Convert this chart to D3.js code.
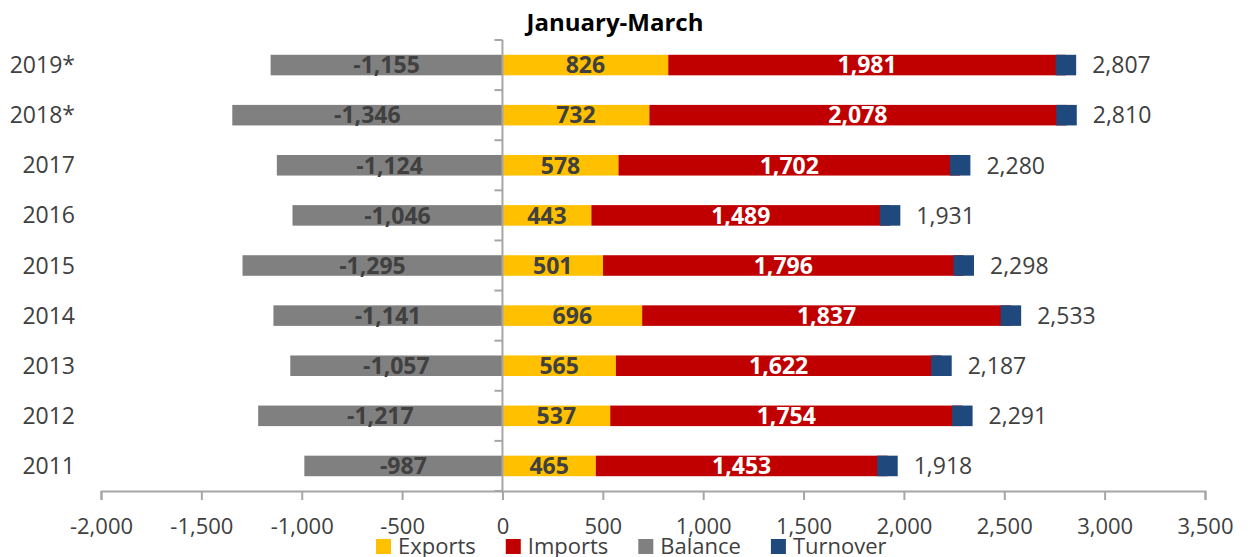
<!DOCTYPE html>
<html>
<head>
<meta charset="utf-8">
<script src="https://cdn.jsdelivr.net/npm/d3@7"></script>
<style>
  body { margin: 0; background: #fff; }
  svg { display: block; font-family: 'Open Sans', sans-serif; }
</style>
</head>
<body>
<div id="chart"></div>
<script>
// January-March trade, values
var years = ['2019*', '2018*', '2017', '2016', '2015', '2014', '2013', '2012', '2011']
var exports_ = [826, 732, 578, 443, 501, 696, 565, 537, 465]
var imports_ = [1981, 2078, 1702, 1489, 1796, 1837, 1622, 1754, 1453]
var balance = [-1155, -1346, -1124, -1046, -1295, -1141, -1057, -1217, -987]
var turnover = [2807, 2810, 2280, 1931, 2298, 2533, 2187, 2291, 1918]
var xTicks = [-2000, -1500, -1000, -500, 0, 500, 1000, 1500, 2000, 2500, 3000, 3500]
var seriesNames = ['Exports', 'Imports', 'Balance', 'Turnover']

var col = {
    Exports: '#ffc000',
    Imports: '#c00000',
    Balance: '#808080',
    Turnover: '#1f497d'
}
var textCol = '#404040'
var axisCol = '#a6a6a6'

var width = 1254, height = 557
var svg = d3.select('#chart').append('svg')
    .attr('width', width).attr('height', height)

var x = d3.scaleLinear().domain([-2000, 3500]).range([101, 1205])
var y = d3.scaleBand().domain(years).range([40, 491])
    .paddingInner(0.59).paddingOuter(0.295)
// plain hyphen for negatives, like the original
var fmt = d3.formatLocale({decimal: '.', thousands: ',', grouping: [3], currency: ['', ''], minus: '-'}).format(',')

var rows = years.map(function(yr, i) {
    return {year: yr, exp: exports_[i], imp: imports_[i], bal: balance[i], tot: turnover[i]}
})

// title
svg.append('text')
    .attr('x', 615).attr('y', 31)
    .attr('text-anchor', 'middle')
    .attr('font-size', 24).attr('font-weight', 'bold')
    .attr('fill', '#000')
    .text('January-March')

// bars
var g = svg.append('g')
g.selectAll('rect.bal').data(rows).join('rect')
    .attr('class', 'bal')
    .attr('x', d => x(d.bal)).attr('width', d => x(0) - x(d.bal))
    .attr('y', d => y(d.year)).attr('height', y.bandwidth())
    .attr('fill', col.Balance)
g.selectAll('rect.exp').data(rows).join('rect')
    .attr('class', 'exp')
    .attr('x', x(0)).attr('width', d => x(d.exp) - x(0))
    .attr('y', d => y(d.year)).attr('height', y.bandwidth())
    .attr('fill', col.Exports)
g.selectAll('rect.imp').data(rows).join('rect')
    .attr('class', 'imp')
    .attr('x', d => x(d.exp)).attr('width', d => x(d.exp + d.imp) - x(d.exp))
    .attr('y', d => y(d.year)).attr('height', y.bandwidth())
    .attr('fill', col.Imports)
// turnover shown as square markers
var mk = y.bandwidth()
g.selectAll('rect.tot').data(rows).join('rect')
    .attr('class', 'tot')
    .attr('x', d => x(d.tot) - mk / 2).attr('width', mk)
    .attr('y', d => y(d.year)).attr('height', mk)
    .attr('fill', col.Turnover)

// axes
var xAxis = svg.append('g').attr('transform', 'translate(0,491)')
    .call(d3.axisBottom(x).tickValues(xTicks).tickFormat(fmt).tickSize(9).tickPadding(18))
xAxis.select('.domain').attr('stroke', axisCol).attr('stroke-width', 2)
xAxis.selectAll('.tick line').attr('stroke', axisCol).attr('stroke-width', 2)
xAxis.selectAll('.tick text').attr('font-size', 22).attr('fill', textCol)
    .attr('font-family', "'Open Sans', sans-serif")

var yAxis = svg.append('g').attr('transform', 'translate(' + x(0) + ',0)')
yAxis.append('line')
    .attr('y1', 40).attr('y2', 491)
    .attr('stroke', axisCol).attr('stroke-width', 2)
var bounds = years.map(d => y(d) + y.bandwidth() / 2 - y.step() / 2)
bounds.push(491)
yAxis.selectAll('line.tk').data(bounds).join('line')
    .attr('class', 'tk')
    .attr('x1', -8).attr('x2', 0)
    .attr('y1', d => d).attr('y2', d => d)
    .attr('stroke', axisCol).attr('stroke-width', 2)

svg.append('g').selectAll('text').data(years).join('text')
    .attr('x', 75).attr('y', d => y(d) + y.bandwidth() / 2)
    .attr('dy', '0.35em')
    .attr('text-anchor', 'end')
    .attr('font-size', 23).attr('fill', textCol)
    .text(d => d)

// labels
var lab = svg.append('g').attr('font-size', 23).attr('font-weight', 'bold')
function cy(d) { return y(d.year) + y.bandwidth() / 2 }
lab.selectAll('text.bal').data(rows).join('text')
    .attr('class', 'bal')
    .attr('x', d => (x(d.bal) + x(0)) / 2).attr('y', cy).attr('dy', '0.36em')
    .attr('text-anchor', 'middle').attr('fill', textCol)
    .text(d => fmt(d.bal))
lab.selectAll('text.exp').data(rows).join('text')
    .attr('class', 'exp')
    .attr('x', d => (x(d.exp) + x(0)) / 2).attr('y', cy).attr('dy', '0.36em')
    .attr('text-anchor', 'middle').attr('fill', textCol)
    .text(d => fmt(d.exp))
lab.selectAll('text.imp').data(rows).join('text')
    .attr('class', 'imp')
    .attr('x', d => (x(d.exp) + x(d.exp + d.imp)) / 2).attr('y', cy).attr('dy', '0.36em')
    .attr('text-anchor', 'middle').attr('fill', '#fff')
    .text(d => fmt(d.imp))
svg.append('g').selectAll('text').data(rows).join('text')
    .attr('x', d => x(d.tot) + mk / 2 + 16).attr('y', cy).attr('dy', '0.36em')
    .attr('font-size', 23).attr('fill', textCol)
    .text(d => fmt(d.tot))

// legend
var leg = svg.append('g').attr('transform', 'translate(376,539)')
var lx = 0
seriesNames.forEach(function(name) {
    var item = leg.append('g').attr('transform', 'translate(' + lx + ',0)')
    item.append('rect').attr('width', 15).attr('height', 15).attr('fill', col[name])
    var t = item.append('text').attr('x', 22).attr('y', 15)
        .attr('font-size', 22).attr('fill', textCol).text(name)
    lx += 22 + t.node().getComputedTextLength() + 30
})
</script>
</body>
</html>
